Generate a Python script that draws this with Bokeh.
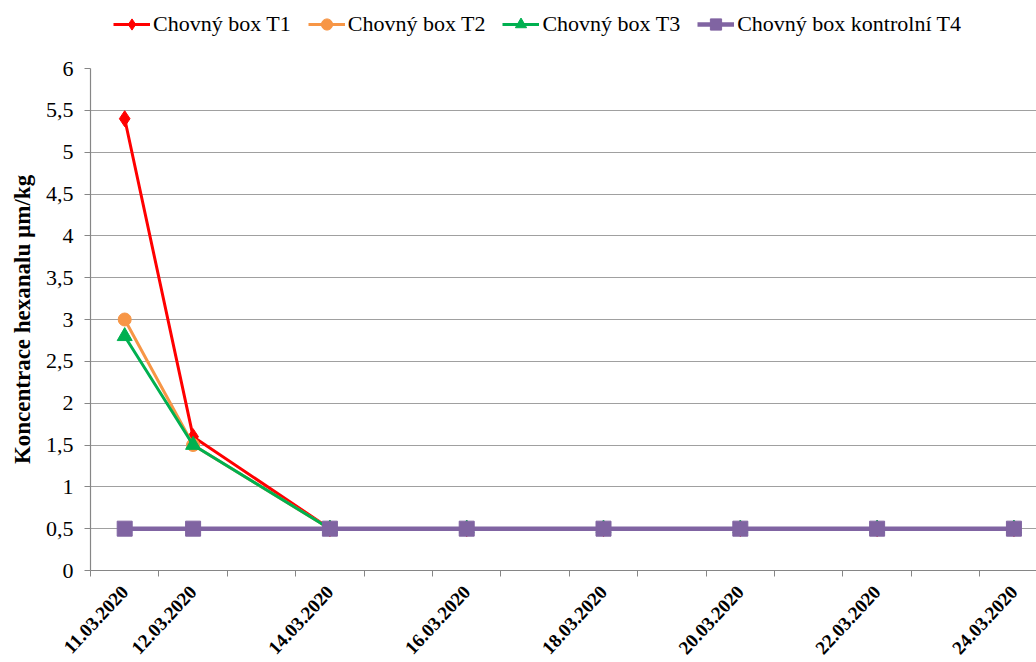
from bokeh.plotting import figure
from bokeh.layouts import column
from bokeh.models import (FixedTicker, Range1d, Legend, LegendItem,
                          CustomJSTickFormatter)
from bokeh.embed import file_html
from bokeh.resources import INLINE

# Sampling dates and measured hexanal concentrations (µm/kg)
dates = ["11.03.2020", "12.03.2020", "14.03.2020", "16.03.2020",
         "18.03.2020", "20.03.2020", "22.03.2020", "24.03.2020"]
t1 = [5.4, 1.6, 0.5, 0.5, 0.5, 0.5, 0.5, 0.5]
t2 = [3.0, 1.5, 0.5, 0.5, 0.5, 0.5, 0.5, 0.5]
t3 = [2.8, 1.5, 0.5, 0.5, 0.5, 0.5, 0.5, 0.5]
t4 = [0.5, 0.5, 0.5, 0.5, 0.5, 0.5, 0.5, 0.5]
names = ["Chovný box T1", "Chovný box T2", "Chovný box T3",
         "Chovný box kontrolní T4"]
y_ticks = [0, 0.5, 1, 1.5, 2, 2.5, 3, 3.5, 4, 4.5, 5, 5.5, 6]

days = [int(d.split(".")[0]) for d in dates]
day_edges = [d - 0.5 for d in range(days[0], days[-1] + 2)]

FONT = "Liberation Serif"

series = [
    (t1, "#FF0000", "diamond", 16, 3),
    (t2, "#F79646", "circle", 13, 3),
    (t3, "#00B050", "triangle", 15, 3),
    (t4, "#8064A2", "square", 15, 4.5),
]

# ---- main chart ----
p = figure(width=1036, height=614, output_backend="svg", toolbar_location=None,
           x_range=Range1d(days[0] - 0.5, days[-1] + 0.33), y_range=Range1d(0, 6),
           min_border_left=90, min_border_right=0, min_border_top=20,
           min_border_bottom=90)
p.outline_line_color = None
p.background_fill_color = "white"
p.border_fill_color = "white"

# horizontal grid only
p.xgrid.grid_line_color = None
p.ygrid.grid_line_color = "#A0A0A0"
p.ygrid.grid_line_width = 1.2

# x axis: tick marks between days, labels under the sampling dates
xa = p.xaxis[0]
xa.ticker = FixedTicker(ticks=days, minor_ticks=day_edges)
xa.formatter = CustomJSTickFormatter(args=dict(days=days, labels=dates), code="""
    const i = days.indexOf(Math.round(tick));
    return i >= 0 ? labels[i] : '';
""")
xa.major_tick_out = 0
xa.major_tick_in = 0
xa.minor_tick_out = 6
xa.minor_tick_in = 0
xa.minor_tick_line_color = "#868686"
xa.axis_line_color = "#868686"
xa.axis_line_width = 1.2
xa.major_label_orientation = 0.82
xa.major_label_standoff = 12
xa.major_label_text_font = FONT
xa.major_label_text_font_style = "bold"
xa.major_label_text_font_size = "19px"
xa.major_label_text_color = "#000000"

# y axis
ya = p.yaxis[0]
ya.ticker = FixedTicker(ticks=y_ticks)
ya.formatter = CustomJSTickFormatter(code="return String(tick).replace('.', ',');")
ya.major_tick_out = 6
ya.major_tick_in = 0
ya.minor_tick_out = 0
ya.minor_tick_in = 0
ya.major_tick_line_color = "#868686"
ya.axis_line_color = "#868686"
ya.axis_line_width = 1.2
ya.major_label_standoff = 11
ya.major_label_text_font = FONT
ya.major_label_text_font_size = "22px"
ya.major_label_text_color = "#000000"
ya.axis_label = "Koncentrace hexanalu µm/kg"
ya.axis_label_text_font = FONT
ya.axis_label_text_font_style = "bold"
ya.axis_label_text_font_size = "23px"
ya.axis_label_text_color = "#000000"
ya.axis_label_standoff = 8

for vals, color, marker, size, lw in series:
    p.line(days, vals, line_color=color, line_width=lw)
    p.scatter(days, vals, marker=marker, size=size, fill_color=color,
              line_color=color)

# ---- legend strip above the chart ----
lg = figure(width=1036, height=48, output_backend="svg", toolbar_location=None,
            x_axis_type=None, y_axis_type=None,
            x_range=Range1d(0, 1), y_range=Range1d(0, 1),
            min_border_left=0, min_border_right=0, min_border_top=0,
            min_border_bottom=0)
lg.grid.visible = False
lg.outline_line_color = None
lg.border_fill_color = "white"

# swatch renderers sit outside the strip's range, only their legend glyphs show
items = []
for (vals, color, marker, size, lw), name in zip(series, names):
    ln = lg.line([-5, -4], [-5, -4], line_color=color, line_width=lw)
    sc = lg.scatter([-5], [-5], marker=marker, size=size, fill_color=color,
                    line_color=color)
    items.append(LegendItem(label=name, renderers=[ln, sc]))

legend = Legend(items=items, orientation="horizontal", location=(23, 10),
                label_text_font=FONT, label_text_font_size="22px",
                label_text_color="#000000", glyph_width=37, glyph_height=28,
                label_standoff=3, spacing=17, padding=0, margin=0,
                border_line_color=None, background_fill_alpha=0)
lg.add_layout(legend)

layout = column(lg, p, spacing=0)
open("out.html", "w").write(file_html(layout, INLINE))
